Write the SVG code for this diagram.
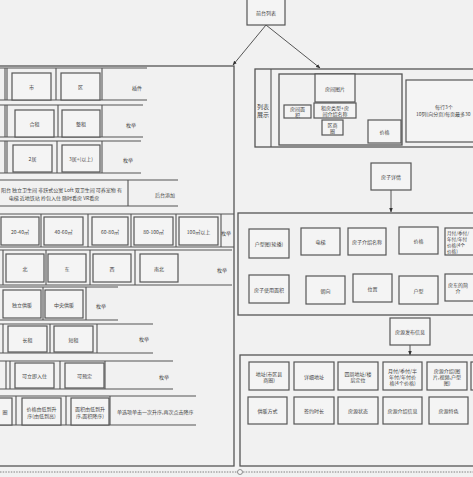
<svg xmlns="http://www.w3.org/2000/svg" width="473" height="477" viewBox="0 0 473 477">
<defs>
<style>
.bg{fill:#f1f1f1}
.b{fill:#f4f4f4;stroke:#555;stroke-width:1.2}
.c{fill:none;stroke:#555;stroke-width:1.3}
.ln{stroke:#555;stroke-width:1.1;fill:none}
.t{font-family:"Noto Sans CJK SC","Noto Sans",sans-serif;font-size:5px;fill:#444;text-anchor:middle;dominant-baseline:central}
.ts{font-family:"Noto Sans CJK SC","Noto Sans",sans-serif;font-size:5px;fill:#444;text-anchor:start;dominant-baseline:central}
.ar{stroke:#444;stroke-width:0.9;fill:none}
</style>
<marker id="ah" viewBox="0 0 10 10" refX="9" refY="5" markerWidth="5" markerHeight="5" orient="auto">
<path d="M0,1 L10,5 L0,9 z" fill="#333"/>
</marker>
</defs>
<rect class="bg" x="0" y="0" width="473" height="477"/>

<g id="connectors">
<line class="ar" x1="266" y1="25" x2="233" y2="65" marker-end="url(#ah)"/>
<line class="ar" x1="266" y1="25" x2="320" y2="68" marker-end="url(#ah)"/>
<line class="ar" x1="391" y1="190" x2="391" y2="212" marker-end="url(#ah)"/>
<line class="ar" x1="410" y1="345" x2="410" y2="355" marker-end="url(#ah)"/>
<line x1="0" y1="472" x2="473" y2="472" stroke="#666" stroke-width="0.8" stroke-dasharray="1.5,1.2"/>
<circle cx="240" cy="472" r="2.5" fill="#f7f7f7" stroke="#666" stroke-width="0.7"/>
</g>

<g id="top">
<rect class="b" x="247" y="-1" width="38" height="26"/>
<text class="t" x="266" y="12">前台列表</text>
</g>

<g id="filters">
<rect class="c" x="-5" y="66" width="239" height="400"/>

<g id="row-city">
<path class="ln" d="M0,68H147M0,100H147M5,68V100M7,68V100M56,68V100M102,68V100"/>
<rect class="b" x="12" y="73" width="39" height="27"/><text class="t" x="31.5" y="86.5">市</text>
<rect class="b" x="61" y="73" width="39" height="27"/><text class="t" x="80.5" y="86.5">区</text>
<text class="t" x="137" y="87">插件</text>
</g>

<g id="row-type">
<path class="ln" d="M0,105H143M0,137H143M5,105V137M7,105V137M58,105V137M102,105V137"/>
<rect class="b" x="15" y="110" width="39" height="27"/><text class="t" x="34.5" y="123.5">合租</text>
<rect class="b" x="62" y="110" width="38" height="27"/><text class="t" x="81" y="123.5">整租</text>
<text class="t" x="131" y="124">枚举</text>
</g>

<g id="row-rooms">
<path class="ln" d="M0,141H141M0,173H141M5,141V173M7,141V173M57,141V173M102,141V173"/>
<rect class="b" x="13" y="145" width="39" height="27"/><text class="t" x="32.5" y="158.5">2居</text>
<rect class="b" x="62" y="145" width="38" height="27"/><text class="t" x="81" y="158.5">3居+(以上)</text>
<text class="t" x="128" y="159">枚举</text>
</g>

<g id="row-tags">
<path class="ln" d="M0,180H178M0,206H178M128,180V206"/>
<text class="ts" x="1" y="189">阳台 独立卫生间 非跃式公寓 Loft 双卫生间 可养宠物 有</text>
<text class="t" x="54" y="197">电梯 近地铁站 拎包入住 随时看房 VR看房</text>
<text class="t" x="165" y="194">后台添加</text>
</g>

<g id="row-area">
<path class="ln" d="M0,214H234M0,247H234M41,214V247M88,214V247M131,214V247M176,214V247M221,214V247"/>
<rect class="b" x="1" y="217" width="38" height="28"/><text class="t" x="20" y="231">20-40㎡</text>
<rect class="b" x="44" y="217" width="39" height="28"/><text class="t" x="63.5" y="231">40-60㎡</text>
<rect class="b" x="92" y="217" width="36" height="28"/><text class="t" x="110" y="231">60-80㎡</text>
<rect class="b" x="134" y="217" width="39" height="28"/><text class="t" x="153.5" y="231">80-100㎡</text>
<rect class="b" x="179" y="217" width="39" height="28"/><text class="t" x="198.5" y="231">100㎡以上</text>
<text class="t" x="226" y="232">枚举</text>
</g>

<g id="row-orient">
<path class="ln" d="M0,250H232M0,285H232M3,250V285M46,250V285M90,250V285M135,250V285"/>
<rect class="b" x="6" y="254" width="38" height="28"/><text class="t" x="25" y="268">北</text>
<rect class="b" x="48" y="254" width="38" height="28"/><text class="t" x="67" y="268">东</text>
<rect class="b" x="93" y="254" width="38" height="28"/><text class="t" x="112" y="268">西</text>
<rect class="b" x="140" y="254" width="38" height="28"/><text class="t" x="159" y="268">南北</text>
<text class="t" x="222" y="269">枚举</text>
</g>

<g id="row-heat">
<path class="ln" d="M0,287H118M0,320H118M43,287V320M86,287V320"/>
<rect class="b" x="3" y="290" width="38" height="28"/><text class="t" x="22" y="304">独立供暖</text>
<rect class="b" x="45" y="290" width="38" height="28"/><text class="t" x="64" y="304">中央供暖</text>
<text class="t" x="101" y="305">枚举</text>
</g>

<g id="row-lease">
<path class="ln" d="M0,324H153M0,353H153M3,324V353M50,324V353M97,324V353"/>
<rect class="b" x="8" y="326" width="39" height="26"/><text class="t" x="27.5" y="339">长租</text>
<rect class="b" x="54" y="326" width="39" height="26"/><text class="t" x="73.5" y="339">短租</text>
<text class="t" x="144" y="338">枚举</text>
</g>

<g id="row-status">
<path class="ln" d="M0,361H173M0,389H173M6,361V389M10,361V389M60,361V389M105,361V389"/>
<rect class="b" x="15" y="363" width="39" height="25"/><text class="t" x="34.5" y="375.5">可立即入住</text>
<rect class="b" x="65" y="363" width="39" height="25"/><text class="t" x="84.5" y="375.5">可预定</text>
<text class="t" x="164" y="376">枚举</text>
</g>

<g id="row-sort">
<path class="ln" d="M0,396H196M0,425H196M16,396V425M66,396V425M110,396V425"/>
<rect class="b" x="-10" y="398" width="22" height="27"/><text class="t" x="5" y="411.5">圈</text>
<rect class="b" x="22" y="398" width="39" height="27"/>
<text class="t" x="41.5" y="408">价格由低到升</text><text class="t" x="41.5" y="415">序(由低到高)</text>
<rect class="b" x="71" y="398" width="38" height="27"/>
<text class="t" x="90" y="408">面积由低到升</text><text class="t" x="90" y="415">序,面积降序)</text>
<text class="ts" x="117" y="411">单选项单击一次升序,再次点击降序</text>
</g>
</g>

<g id="list">
<rect class="c" x="255" y="69" width="230" height="78"/>
<line class="ln" x1="271" y1="69" x2="271" y2="147"/>
<text class="t" x="263" y="106" style="font-size:6px">列表</text>
<text class="t" x="263" y="114" style="font-size:6px">展示</text>
<rect class="c" x="279" y="74" width="123" height="71"/>
<g id="n-img"><rect class="b" x="315" y="74" width="40" height="28"/><text class="t" x="335" y="88">房间图片</text></g>
<g id="n-area"><rect class="b" x="284" y="105" width="27" height="13"/><text class="t" x="297.5" y="108.5">房间面</text><text class="t" x="297.5" y="114.5">积</text></g>
<g id="n-name"><rect class="b" x="314" y="103" width="42" height="15"/><text class="t" x="335" y="107.5">租房类型+房</text><text class="t" x="335" y="113.5">间介绍名称</text></g>
<g id="n-zone"><rect class="b" x="322" y="120" width="21" height="15"/><text class="t" x="332.5" y="124.5">区商</text><text class="t" x="332.5" y="130.5">圈</text></g>
<g id="n-price"><rect class="b" x="368" y="120" width="33" height="23"/><text class="t" x="384.5" y="131.5">价格</text></g>
<g id="n-rule"><rect class="b" x="406" y="80" width="80" height="62"/><text class="t" x="444" y="106">每行3个</text><text class="ts" x="416" y="113">10列(向分页)每页最多30</text></g>
</g>

<g id="detail-title"><rect class="b" x="371" y="163" width="40" height="27"/><text class="t" x="391" y="176.5">房子详情</text></g>

<g id="detail">
<rect class="c" x="238" y="213" width="250" height="102"/>
<g id="d1"><rect class="b" x="249" y="229" width="40" height="29"/><text class="t" x="269" y="243.5">户型图(轮播)</text></g>
<g id="d2"><rect class="b" x="301" y="228" width="39" height="27"/><text class="t" x="320.5" y="241.5">电梯</text></g>
<g id="d3"><rect class="b" x="348" y="228" width="38" height="27"/><text class="t" x="367" y="241.5">房子介绍名称</text></g>
<g id="d4"><rect class="b" x="399" y="227" width="39" height="27"/><text class="t" x="418.5" y="240.5">价格</text></g>
<g id="d5"><rect class="b" x="445" y="228" width="40" height="27"/>
<text class="ts" x="447" y="233" style="font-size:4.6px">月付/季付/</text><text class="ts" x="447" y="239" style="font-size:4.6px">年付/年付</text><text class="ts" x="447" y="245" style="font-size:4.6px">价格(4个</text><text class="ts" x="447" y="251" style="font-size:4.6px">价格)</text></g>
<g id="d6"><rect class="b" x="249" y="275" width="40" height="28"/><text class="t" x="269" y="289">房子使用面积</text></g>
<g id="d7"><rect class="b" x="306" y="276" width="39" height="28"/><text class="t" x="325.5" y="290">朝向</text></g>
<g id="d8"><rect class="b" x="353" y="274" width="39" height="28"/><text class="t" x="372.5" y="288">位置</text></g>
<g id="d9"><rect class="b" x="399" y="276" width="39" height="28"/><text class="t" x="418.5" y="290">户型</text></g>
<g id="d10"><rect class="b" x="445" y="274" width="40" height="27"/><text class="ts" x="448" y="284.5">房东的简</text><text class="t" x="458" y="290.5">介</text></g>
</g>

<g id="publish-title"><rect class="b" x="390" y="318" width="40" height="27"/><text class="t" x="410" y="331.5">房源发布信息</text></g>

<g id="publish">
<rect class="c" x="240" y="355" width="250" height="111"/>
<g id="p1"><rect class="b" x="249" y="362" width="40" height="28"/><text class="t" x="269" y="373">地址(市区县</text><text class="t" x="269" y="379">商圈)</text></g>
<g id="p2"><rect class="b" x="294" y="362" width="40" height="28"/><text class="t" x="314" y="376">详细地址</text></g>
<g id="p3"><rect class="b" x="338" y="362" width="40" height="28"/><text class="t" x="358" y="373">四周地址/楼</text><text class="t" x="358" y="379">层定位</text></g>
<g id="p4"><rect class="b" x="383" y="362" width="39" height="28"/><text class="t" x="402.5" y="370">月付/季付/半</text><text class="t" x="402.5" y="376">年付/年付价</text><text class="t" x="402.5" y="382">格(4个价格)</text></g>
<g id="p5"><rect class="b" x="427" y="362" width="40" height="28"/><text class="t" x="447" y="370">房源介绍(图</text><text class="t" x="447" y="376">片,视频,户型</text><text class="t" x="447" y="382">图)</text></g>
<g id="p6"><rect class="b" x="471" y="362" width="20" height="28"/></g>
<g id="p7"><rect class="b" x="248" y="397" width="39" height="27"/><text class="t" x="267.5" y="410.5">供暖方式</text></g>
<g id="p8"><rect class="b" x="294" y="397" width="40" height="27"/><text class="t" x="314" y="410.5">签约时长</text></g>
<g id="p9"><rect class="b" x="338" y="397" width="40" height="27"/><text class="t" x="358" y="410.5">房源状态</text></g>
<g id="p10"><rect class="b" x="383" y="397" width="39" height="27"/><text class="t" x="402.5" y="410.5">房源介绍信息</text></g>
<g id="p11"><rect class="b" x="429" y="397" width="39" height="27"/><text class="t" x="448.5" y="410.5">房源特色</text></g>
</g>
</svg>
